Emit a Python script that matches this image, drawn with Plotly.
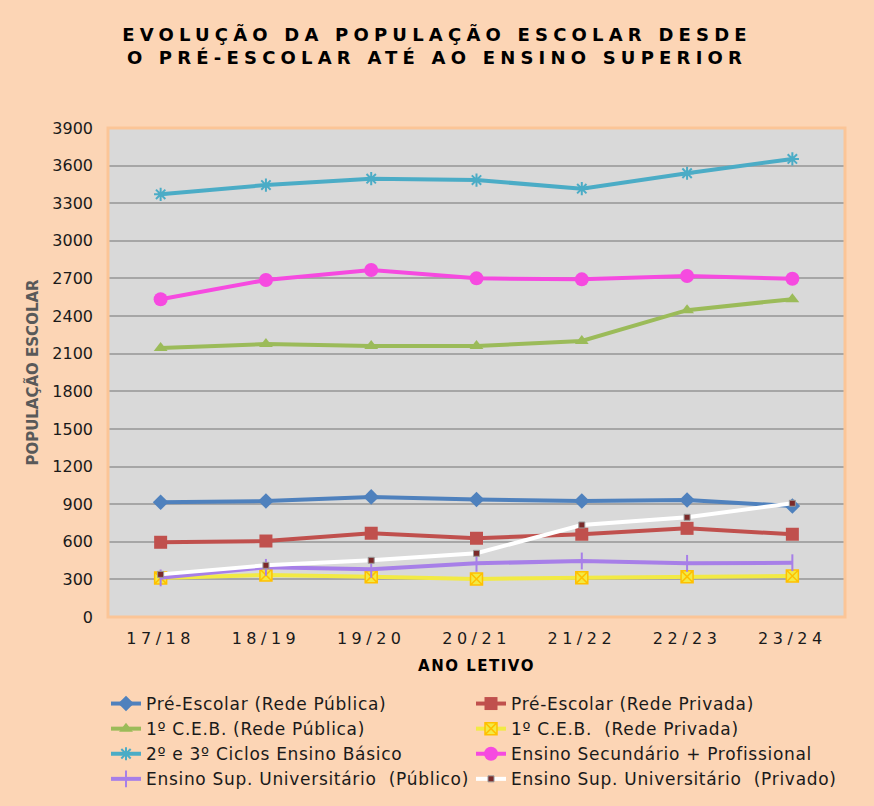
import plotly.graph_objects as go

anos = ["17/18", "18/19", "19/20", "20/21", "21/22", "22/23", "23/24"]

pre_publica = [915, 925, 958, 937, 925, 933, 885]
pre_privada = [596, 606, 668, 628, 660, 707, 660]
ceb1_publica = [2145, 2177, 2161, 2161, 2201, 2447, 2535]
ceb1_privada = [312, 335, 322, 303, 314, 322, 327]
ciclos_23 = [3371, 3445, 3496, 3485, 3416, 3539, 3653]
secundario = [2534, 2688, 2768, 2701, 2693, 2720, 2698]
sup_publico = [312, 396, 380, 428, 447, 428, 433]
sup_privado = [340, 412, 452, 508, 734, 795, 907]

nomes = [
    "Pré-Escolar (Rede Pública)",
    "Pré-Escolar (Rede Privada)",
    "1º C.E.B. (Rede Pública)",
    "1º C.E.B.  (Rede Privada)",
    "2º e 3º Ciclos Ensino Básico",
    "Ensino Secundário + Profissional",
    "Ensino Sup. Universitário  (Público)",
    "Ensino Sup. Universitário  (Privado)",
]

FONT = "DejaVu Sans"
fig = go.Figure()

def add(y, name, color, symbol, size, mline_color=None, mline_w=0, mcolor=None):
    fig.add_trace(go.Scatter(
        x=anos, y=y, name=f"<span style='letter-spacing:0.7px'>{name}</span>",
        mode="lines+markers",
        line=dict(color=color, width=4),
        marker=dict(symbol=symbol, size=size, color=mcolor or color,
                    line=dict(color=mline_color or color, width=mline_w)),
    ))

add(pre_publica, nomes[0], "#4F81BD", "diamond", 12)
add(pre_privada, nomes[1], "#C0504D", "square", 13)
add(ceb1_publica, nomes[2], "#9BBB59", "triangle-up", 12)
add(ceb1_privada, nomes[3], "#F2EA44", "square-x", 12, mline_color="#FFC000", mline_w=1.5, mcolor="#F2EA44")
add(ciclos_23, nomes[4], "#4BACC6", "asterisk-open", 11, mline_color="#4BACC6", mline_w=2)
add(secundario, nomes[5], "#F64AE0", "circle", 14)
add(sup_publico, nomes[6], "#A77FE8", "line-ns-open", 12, mline_color="#A77FE8", mline_w=2)
add(sup_privado, nomes[7], "#FFFFFF", "square", 6, mline_color="#9A9A9A", mline_w=1, mcolor="#7B2A2A")

fig.update_layout(
    width=874, height=806,
    paper_bgcolor="#FCD5B5", plot_bgcolor="#D9D9D9",
    margin=dict(l=108, r=29, t=128, b=189, autoexpand=False),
    font=dict(family=FONT, size=16, color="#1A1A1A"),
    title=dict(
        text="<span style='letter-spacing:5.2px'><b>EVOLUÇÃO DA POPULAÇÃO ESCOLAR DESDE<br>O PRÉ-ESCOLAR ATÉ AO ENSINO SUPERIOR</b></span>",
        x=0.5, xref="container", xanchor="center",
        y=1 - 41 / 806, yref="container", yanchor="middle",
        font=dict(family=FONT, size=18, color="#000000"),
    ),
    showlegend=True,
    legend=dict(
        orientation="h", x=106 / 874, xref="container", xanchor="left",
        y=1 - 686 / 806, yref="container", yanchor="top",
        entrywidthmode="pixels", entrywidth=320,
        font=dict(family=FONT, size=17, color="#1A1A1A"),
        itemwidth=30, tracegroupgap=0, bgcolor="rgba(0,0,0,0)",
    ),
)
fig.update_xaxes(
    tickvals=anos, ticktext=[f"<span style='letter-spacing:4.5px'>{a}</span>" for a in anos],
    showgrid=False, ticks="", ticklabelstandoff=10,
    tickfont=dict(family=FONT, size=16, color="#1A1A1A"),
    title=dict(text="<span style='letter-spacing:1.5px'><b>ANO LETIVO</b></span>",
               font=dict(family=FONT, size=15, color="#000000"), standoff=13),
    range=[-0.5, 6.5], zeroline=False,
)
fig.update_yaxes(
    range=[0, 3900], tickvals=list(range(0, 3901, 300)),
    showgrid=True, gridcolor="#A6A6A6", gridwidth=2,
    ticks="", ticklabelstandoff=14, zeroline=False,
    tickfont=dict(family=FONT, size=16, color="#1A1A1A"),
    title=dict(text="<b>POPULAÇÃO ESCOLAR</b>", font=dict(family=FONT, size=15, color="#595959"), standoff=10),
)
fig.add_shape(type="rect", xref="paper", yref="paper", x0=0, x1=1, y0=0, y1=1,
              line=dict(color="#FBC597", width=3), layer="above")

fig.write_html("out.html", config={"displayModeBar": False},
               post_script="document.body.style.margin='0';")
